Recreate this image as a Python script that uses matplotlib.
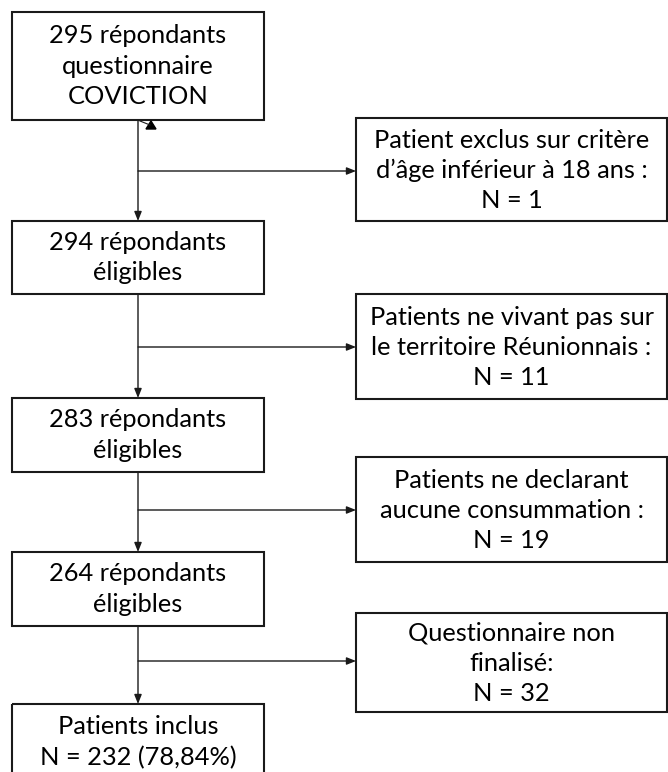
import matplotlib.pyplot as plt
from matplotlib.patches import Rectangle, Polygon

# chart content
main_counts = [295, 294, 283, 264]
main_labels = ["{} répondants\nquestionnaire\nCOVICTION".format(main_counts[0]),
               "{} répondants\néligibles".format(main_counts[1]),
               "{} répondants\néligibles".format(main_counts[2]),
               "{} répondants\néligibles".format(main_counts[3])]
included = 232
included_pct = "78,84%"
final_label = "Patients inclus\nN = {} ({})".format(included, included_pct)

excluded_counts = [1, 11, 19, 32]
excluded_reasons = ["Patient exclus sur critère\nd’âge inférieur à 18 ans :",
                    "Patients ne vivant pas sur\nle territoire Réunionnais :",
                    "Patients ne declarant\naucune consummation :",
                    "Questionnaire non\nfinalisé:"]

# layout (pixels, y downwards)
left_x0, left_x1 = 12, 264
right_x0, right_x1 = 356, 667
stem_x = 138
left_boxes = [(12, 120), (221, 294), (398, 472), (552, 626), (704, 778)]
right_boxes = [(118, 221), (294, 399), (457, 562), (613, 712)]
branch_y = [171, 347, 510, 661]

plt.rcParams['font.family'] = ['Lato', 'DejaVu Sans']

fig = plt.figure(figsize=(6.68, 7.72), dpi=100)
ax = fig.add_axes([0, 0, 1, 1])
ax.set_xlim(0, 668)
ax.set_ylim(772, 0)
ax.axis('off')

fs = 18.3
ls = 1.38
box_kw = dict(fill=False, edgecolor='#1a1a1a', linewidth=1.5)

labels = main_labels + [final_label]
for (y0, y1), lab in zip(left_boxes, labels):
    ax.add_patch(Rectangle((left_x0, y0), left_x1 - left_x0, y1 - y0, **box_kw))
    yc = (y0 + y1) / 2 if y1 < 772 else 742
    ax.text((left_x0 + left_x1) / 2, yc, lab, ha='center', va='center',
            fontsize=fs, linespacing=ls, color='black')

for (y0, y1), reason, n in zip(right_boxes, excluded_reasons, excluded_counts):
    ax.add_patch(Rectangle((right_x0, y0), right_x1 - right_x0, y1 - y0, **box_kw))
    ax.text((right_x0 + right_x1) / 2, (y0 + y1) / 2 + 1, reason + "\nN = {}".format(n),
            ha='center', va='center', fontsize=fs, linespacing=ls, color='black')

arrow_kw = dict(arrowstyle='-|>,head_length=0.55,head_width=0.22', color='#1a1a1a',
                linewidth=1.0, shrinkA=0, shrinkB=0)

# vertical arrows between main boxes
for i in range(len(left_boxes) - 1):
    ax.annotate('', xy=(stem_x, left_boxes[i + 1][0]), xytext=(stem_x, left_boxes[i][1]),
                arrowprops=arrow_kw)

# branch arrows to exclusion boxes
for y in branch_y:
    ax.annotate('', xy=(right_x0, y), xytext=(stem_x, y), arrowprops=arrow_kw)

# small stray arrow head under the first box
ax.plot([140, 150], [121, 125], color='#1a1a1a', linewidth=0.8)
ax.add_patch(Polygon([[146, 129], [156, 129], [151, 121]], closed=True, color='black'))

fig.savefig('out.png', dpi=100)
